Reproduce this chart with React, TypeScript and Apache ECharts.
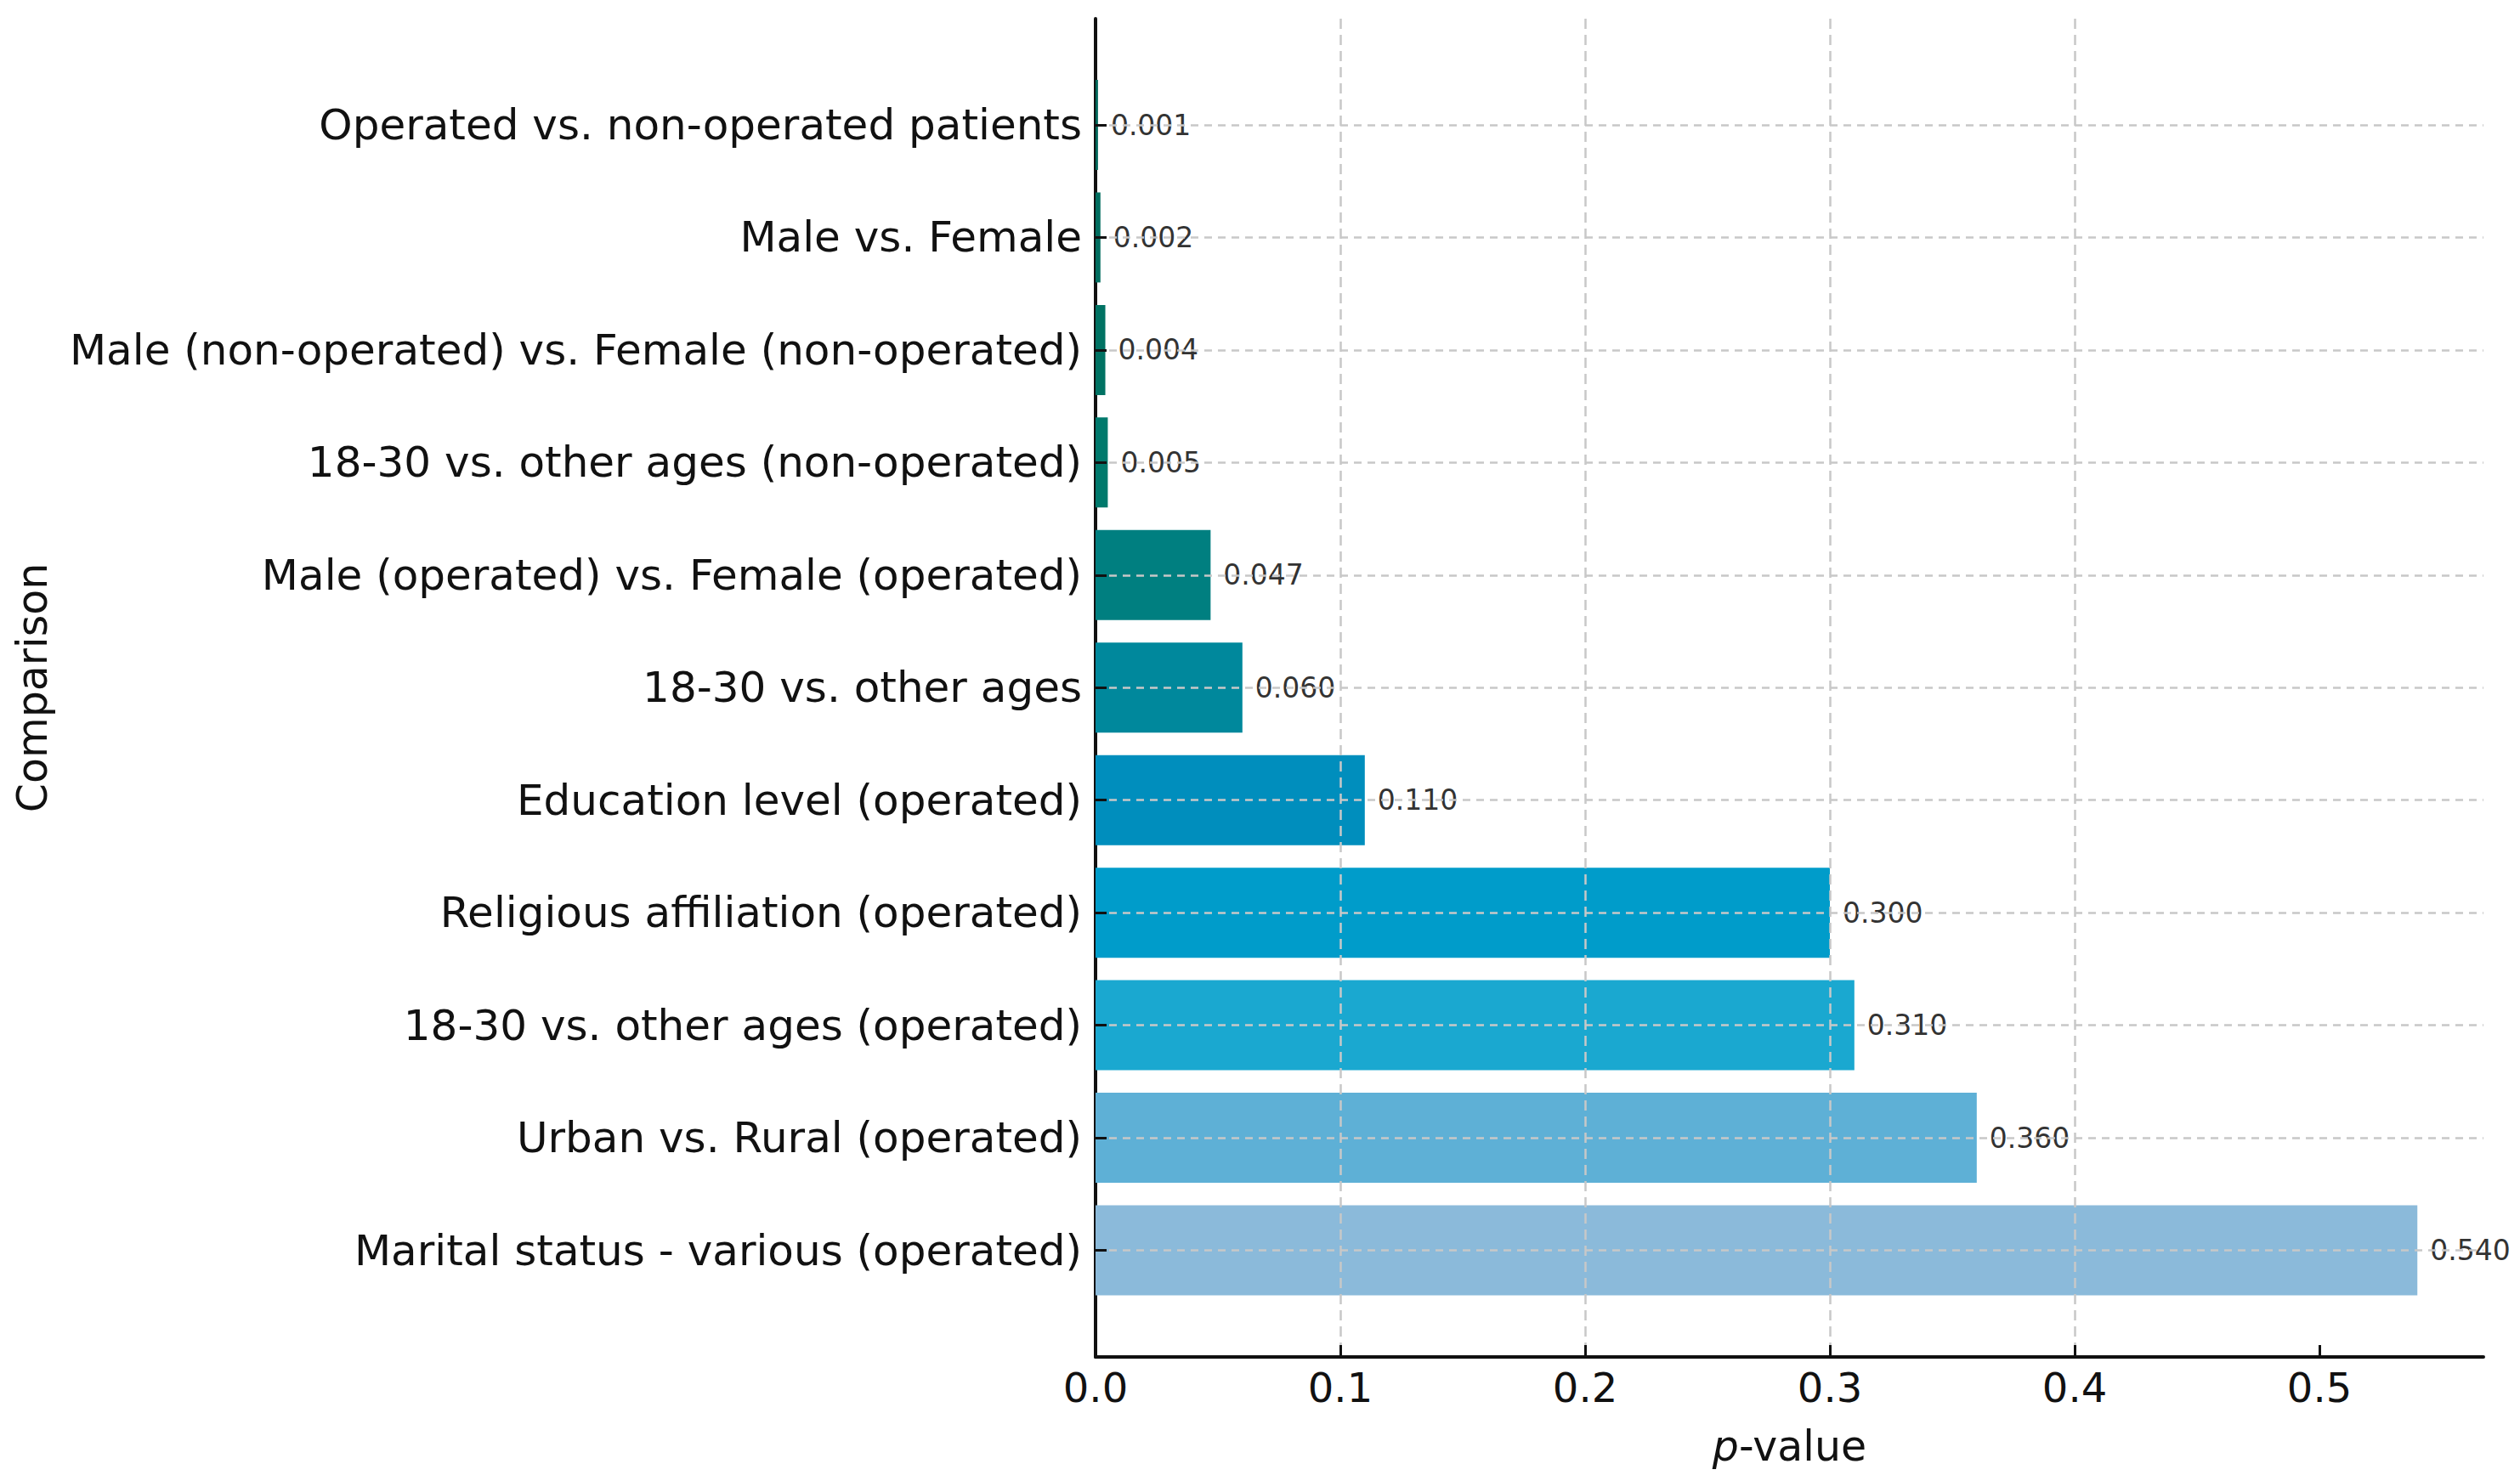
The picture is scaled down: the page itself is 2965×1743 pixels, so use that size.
import React, { useEffect, useRef } from "react";
import * as echarts from "echarts";

const categories = [
  "Operated vs. non-operated patients",
  "Male vs. Female",
  "Male (non-operated) vs. Female (non-operated)",
  "18-30 vs. other ages (non-operated)",
  "Male (operated) vs. Female (operated)",
  "18-30 vs. other ages",
  "Education level (operated)",
  "Religious affiliation (operated)",
  "18-30 vs. other ages (operated)",
  "Urban vs. Rural (operated)",
  "Marital status - various (operated)",
];
const pValues = [0.001, 0.002, 0.004, 0.005, 0.047, 0.06, 0.11, 0.3, 0.31, 0.36, 0.54];
const barColors = [
  "#00685a",
  "#006d5f",
  "#007263",
  "#00796c",
  "#007f80",
  "#00889c",
  "#008ebd",
  "#009cca",
  "#1aa8d0",
  "#5eb0d6",
  "#8bbada",
];
const xTickValues = [0, 0.1, 0.2, 0.3, 0.4, 0.5];
const xMin = 0;
const xMax = 0.567;

const FONT = "DejaVu Sans";

export default function App() {
  const ref = useRef<HTMLDivElement>(null);
  useEffect(() => {
    document.body.style.margin = "0";
    const chart = echarts.init(ref.current!, null, { renderer: "svg" });
    const gridLeft = 1289;
    const gridWidth = 1633;
    const option: any = {
      animation: false,
      backgroundColor: "#ffffff",
      textStyle: { fontFamily: FONT },
      grid: [
        { left: gridLeft, top: 22, width: gridWidth, height: 1575, containLabel: false },
        { left: gridLeft, top: 147, width: gridWidth, height: 1324.5, containLabel: false },
      ],
      xAxis: [
        {
          type: "value",
          gridIndex: 0,
          min: xMin,
          max: xMax,
          interval: 0.1,
          z: 3,
          name: "{i|p}-value",
          nameLocation: "middle",
          nameGap: 81,
          nameTextStyle: {
            fontFamily: FONT,
            fontSize: 49,
            color: "#111",
            rich: {
              i: { fontFamily: FONT, fontSize: 49, fontStyle: "italic", color: "#111" },
            },
          },
          axisLine: { show: true, onZero: false, lineStyle: { color: "#111", width: 4 } },
          axisTick: {
            show: true,
            inside: true,
            length: 14,
            lineStyle: { color: "#111", width: 3 },
            customValues: xTickValues,
          },
          axisLabel: {
            show: true,
            fontFamily: FONT,
            fontSize: 48,
            color: "#111",
            margin: 12,
            customValues: xTickValues,
            formatter: (v: number) => v.toFixed(1),
          },
          splitLine: {
            show: true,
            showMinLine: false,
            showMaxLine: false,
            lineStyle: { color: "#c8c8c8", width: 2.5, type: [12, 7] },
          },
        },
        {
          type: "value",
          gridIndex: 1,
          min: xMin,
          max: xMax,
          show: false,
        },
      ],
      yAxis: [
        {
          type: "value",
          gridIndex: 0,
          min: 0,
          max: 1,
          name: "Comparison",
          nameLocation: "middle",
          nameGap: 1226,
          nameTextStyle: { fontFamily: FONT, fontSize: 49, color: "#111" },
          axisLine: { show: true, lineStyle: { color: "#111", width: 4 } },
          axisTick: { show: false },
          axisLabel: { show: false },
          splitLine: { show: false },
        },
        {
          type: "category",
          gridIndex: 1,
          data: categories,
          inverse: true,
          boundaryGap: false,
          z: 3,
          axisLine: { show: false },
          axisTick: {
            show: true,
            inside: true,
            length: 13,
            lineStyle: { color: "#111", width: 3 },
          },
          axisLabel: {
            show: true,
            interval: 0,
            fontFamily: FONT,
            fontSize: 50,
            color: "#111",
            margin: 16,
          },
          splitLine: {
            show: true,
            lineStyle: { color: "#c8c8c8", width: 2.5, type: [9, 7] },
          },
        },
      ],
      series: [
        {
          type: "bar",
          xAxisIndex: 1,
          yAxisIndex: 1,
          barWidth: "80%",
          z: 2,
          data: pValues.map((v, i) => ({ value: v, itemStyle: { color: barColors[i] } })),
          label: {
            show: true,
            position: "right",
            distance: 15,
            fontFamily: FONT,
            fontSize: 33,
            color: "#333",
            formatter: (p: any) => Number(p.value).toFixed(3),
          },
        },
      ],
    };
    chart.setOption(option);
    return () => chart.dispose();
  }, []);
  return <div ref={ref} style={{ width: 2965, height: 1743 }} />;
}
